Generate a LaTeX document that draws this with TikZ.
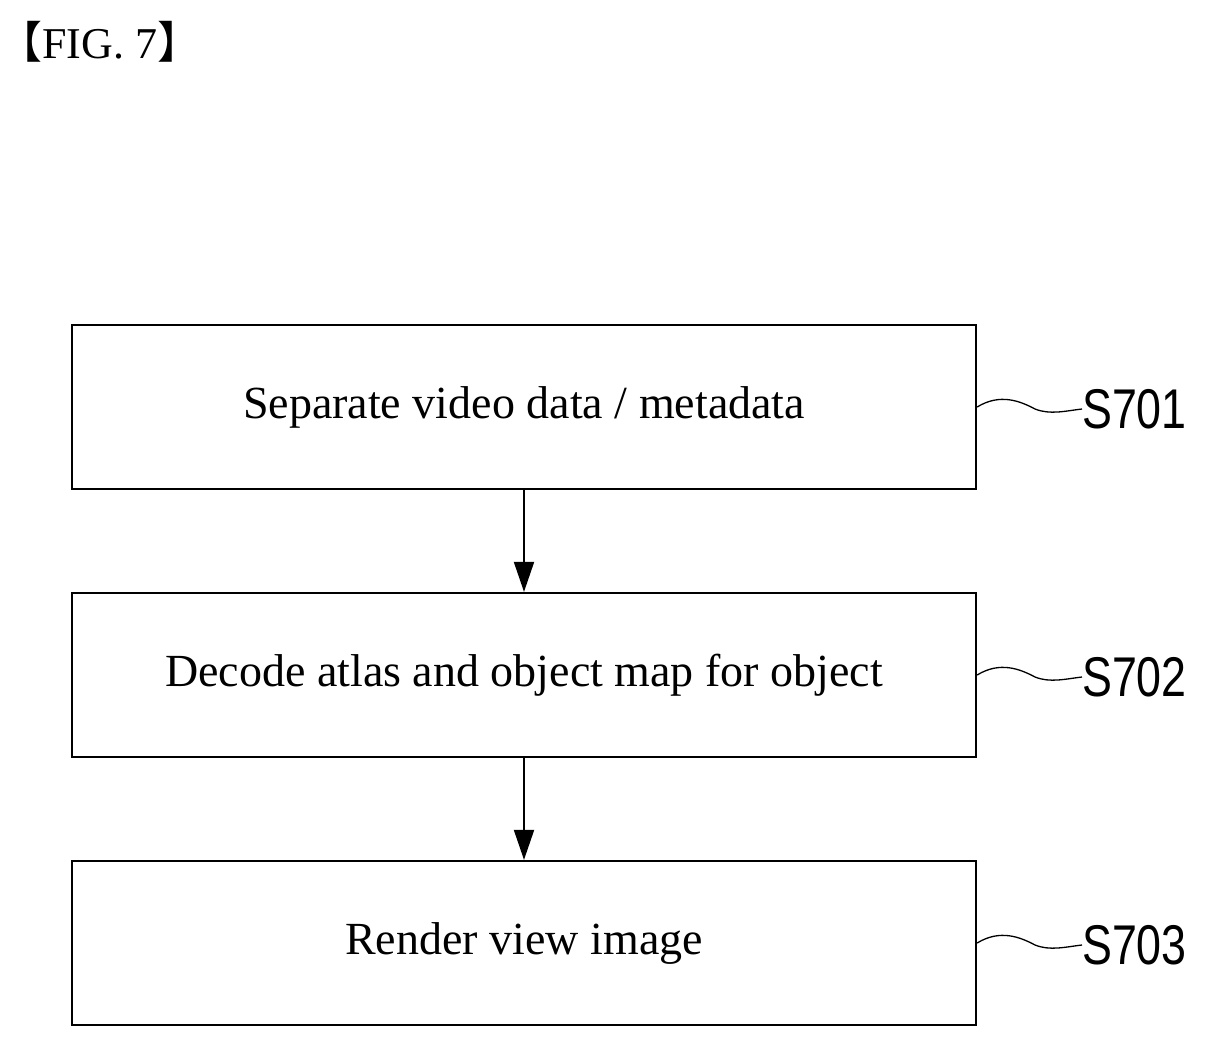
\documentclass[tikz,border=0pt]{standalone}
\usepackage{fontspec}
\setmainfont{Liberation Serif}
\newfontfamily\cjk{Noto Sans CJK SC}
\newfontfamily\lab{Liberation Sans}
\usetikzlibrary{arrows.meta}
\begin{document}
\begin{tikzpicture}[x=1pt,y=-1pt,
  box/.style={draw,line width=2.3pt,minimum width=904pt,minimum height=164pt,inner sep=0pt},
  txt/.style={font=\fontsize{46}{48}\selectfont,inner sep=0pt},
  arr/.style={line width=2pt,-{Triangle[length=30pt,width=20pt]}},
  lbl/.style={anchor=west,inner sep=0pt,font=\lab\fontsize{56}{58}\selectfont,xscale=0.8},
  sq/.style={line width=1.3pt}]
\useasboundingbox (0,0) rectangle (1208,1047);
\node[anchor=west,inner sep=0pt,font=\fontsize{44}{46}\selectfont] (t) at (-2,42) {{\cjk【}FIG. 7{\cjk】}};
\node[box] (b1) at (524,407) {};
\node[box] (b2) at (524,675) {};
\node[box] (b3) at (524,943) {};
\node[txt] (t1) at (b1) {Separate video data / metadata};
\node[txt] (t2) at (b2) {Decode atlas and object map for object};
\node[txt] (t3) at (b3) {Render view image};
\draw[arr] (b1.south) -- (b2.north);
\draw[arr] (b2.south) -- (b3.north);
\foreach \b/\s/\y in {b1/S701/409,b2/S702/677,b3/S703/945}{
  \node[lbl] (l\s) at (1082,\y) {\s};
}
\foreach \b/\s/\y in {b1/S701/407,b2/S702/675,b3/S703/943}{
  \draw[sq] (\b.east) .. controls (1000,\y-14) and (1020,\y-6) .. (1035,\y+2) .. controls (1050,\y+8) and (1065,\y+4) .. (1082,\y+2);
}
\end{tikzpicture}
\end{document}
